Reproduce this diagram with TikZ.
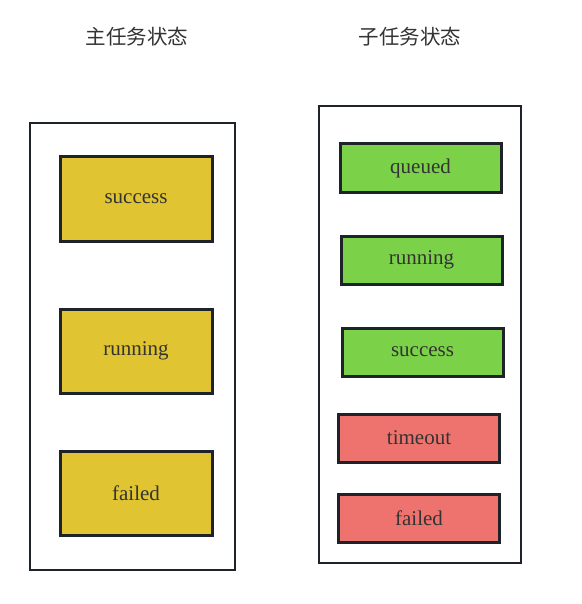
\documentclass[tikz,border=0pt]{standalone}
\usepackage{fontspec}
\setmainfont{Liberation Serif}
\newfontfamily\cjk{Noto Sans CJK SC}
\usetikzlibrary{positioning}

\definecolor{edgegray}{HTML}{1E2329}
\definecolor{textgray}{HTML}{333333}
\definecolor{mainyellow}{HTML}{E0C431}
\definecolor{subgreen}{HTML}{7BD148}
\definecolor{subred}{HTML}{EE736E}

\tikzset{
    frame/.style={draw=edgegray, line width=2.8pt, fill=white},
    mainbox/.style={draw=edgegray, line width=3pt, fill=mainyellow, text=textgray,
        minimum width=152pt, minimum height=84pt, font=\fontsize{21}{24}\selectfont},
    subbox/.style={draw=edgegray, line width=3pt, text=textgray,
        minimum width=161pt, minimum height=48pt, font=\fontsize{21}{24}\selectfont},
    title/.style={text=textgray, font=\cjk\fontsize{20.5}{24}\selectfont}
}

\begin{document}
\begin{tikzpicture}[x=1pt, y=-1pt]

    % Fix the canvas
    \useasboundingbox (0,0) rectangle (581,604);

    % Draw the titles
    \node[title] (maintitle) at (137,37) {主任务状态};
    \node[title] (subtitle) at (410,37) {子任务状态};

    % Draw the containers
    \draw[frame] (30,123) rectangle (235,570);
    \draw[frame] (319,106) rectangle (521,563);

    % Main task states
    \node[mainbox] (msuccess) at (136,199) {success};
    \node[mainbox] (mrunning) at (136,351) {running};
    \node[mainbox] (mfailed) at (136,493) {failed};

    % Sub task states
    \node[subbox, fill=subgreen] (squeued) at (420.5,168) {queued};
    \node[subbox, fill=subgreen] (srunning) at (421.5,260) {running};
    \node[subbox, fill=subgreen] (ssuccess) at (422.5,352) {success};
    \node[subbox, fill=subred] (stimeout) at (419,438) {timeout};
    \node[subbox, fill=subred] (sfailed) at (419,518) {failed};

\end{tikzpicture}
\end{document}
